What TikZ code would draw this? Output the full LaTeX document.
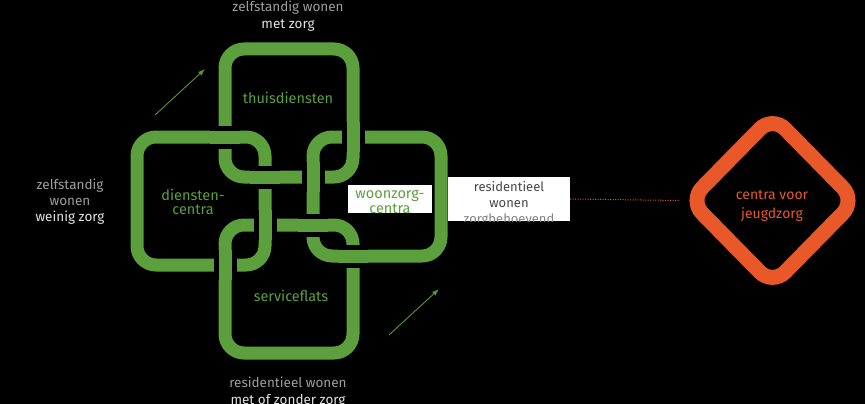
\documentclass[tikz,border=0pt]{standalone}
\usepackage{fontspec}
\setmainfont{Fira Sans}
\usetikzlibrary{arrows.meta,shapes.geometric}

\definecolor{chaingreen}{RGB}{92,160,62}
\definecolor{arrowgreen}{RGB}{86,150,60}
\definecolor{jeugdorange}{RGB}{232,88,40}
\definecolor{dimtext}{RGB}{158,158,158}
\definecolor{brighttext}{RGB}{226,226,226}
\definecolor{boxtext}{RGB}{72,72,72}
\definecolor{boxtextlight}{RGB}{130,130,130}

\tikzset{
  ring/.style={draw=chaingreen, line width=13pt, rounded corners=19pt},
  outerlabel/.style={align=center, text=dimtext, font=\fontsize{13.5}{17}\selectfont},
  ringlabel/.style={align=center, text=chaingreen, font=\fontsize{14.5}{14}\selectfont},
  flowarrow/.style={draw=arrowgreen, line width=0.9pt, -{Latex[length=7pt,width=5pt]}}
}

% redraw a piece of the ring that lies on top at a crossing
\newcommand{\overpass}[2]{%
  \draw[black, line width=23pt] #1 -- #2;
  \draw[chaingreen, line width=13pt] #1 -- #2;}

\begin{document}
\begin{tikzpicture}[x=1pt, y=-1pt]
  \useasboundingbox (0,0) rectangle (865,404);
  \fill[black] (0,0) rectangle (865,404);

  % Draw the four chain links
  \draw[ring] (225,49) rectangle (353,177);
  \draw[ring] (137,137) rectangle (265,265);
  \draw[ring] (313,137) rectangle (441,256);
  \draw[ring] (225,225) rectangle (353,353);

  % Crossings: the upper link of each pair
  \overpass{(210,137)}{(240,137)}
  \overpass{(250,177)}{(280,177)}
  \overpass{(353,122)}{(353,152)}
  \overpass{(313,162)}{(313,192)}
  \overpass{(265,210)}{(265,240)}
  \overpass{(225,250)}{(225,280)}
  \overpass{(298,225)}{(328,225)}
  \overpass{(338,256)}{(368,256)}

  % Labels in the links
  \node[ringlabel] (thuis) at (288,98) {thuisdiensten};
  \node[ringlabel] (dienst) at (193,202) {diensten-\\centra};
  \node[ringlabel] (service) at (291,296) {serviceflats};
  \node[fill=white, minimum width=84pt, minimum height=28pt, inner sep=0pt] (woonbox) at (390,199) {};
  \node[ringlabel, font=\fontsize{14.5}{15}\selectfont] (woonzorg) at (390,201.5) {woonzorg-\\centra};

  % Labels round the chain
  \node[outerlabel] (toplabel) at (288,16.5) {zelfstandig wonen\\\textcolor{brighttext}{met zorg}};
  \node[outerlabel, font=\fontsize{13.5}{16}\selectfont] (leftlabel) at (70,202) {zelfstandig\\wonen\\\textcolor{brighttext}{weinig zorg}};
  \node[outerlabel] (bottomlabel) at (288,392) {residentieel wonen\\\textcolor{brighttext}{met of zonder zorg}};

  % Arrows
  \coordinate (upfrom) at (155,115);
  \coordinate (upto) at (205,69);
  \coordinate (downfrom) at (389,335);
  \coordinate (downto) at (439,289);
  \draw[flowarrow] (upfrom) -- (upto);
  \draw[flowarrow] (downfrom) -- (downto);

  % Residential box
  \node[fill=white, minimum width=122pt, minimum height=44pt, inner sep=0pt] (resbox) at (509,199) {};
  \begin{scope}
    \clip (resbox.south west) rectangle (resbox.north east);
    \node[align=center, text=boxtext, font=\fontsize{13}{16}\selectfont] (restext) at (509,203.5)
      {residentieel\\wonen\\\textcolor{boxtextlight}{zorgbehoevend}};
  \end{scope}

  % Youth care
  \node[diamond, draw=jeugdorange, line width=15pt, rounded corners=18pt, minimum width=172pt, minimum height=175pt,
        inner sep=0pt] (jeugd) at (772.5,200.5) {};
  \node[align=center, text=jeugdorange, font=\fontsize{14}{19}\selectfont] (jeugdtext) at (772,206) {centra voor\\jeugdzorg};
  \draw[jeugdorange, line width=1pt, dash pattern=on 1pt off 1.5pt] (resbox.east) -- (jeugd.west);
\end{tikzpicture}
\end{document}
